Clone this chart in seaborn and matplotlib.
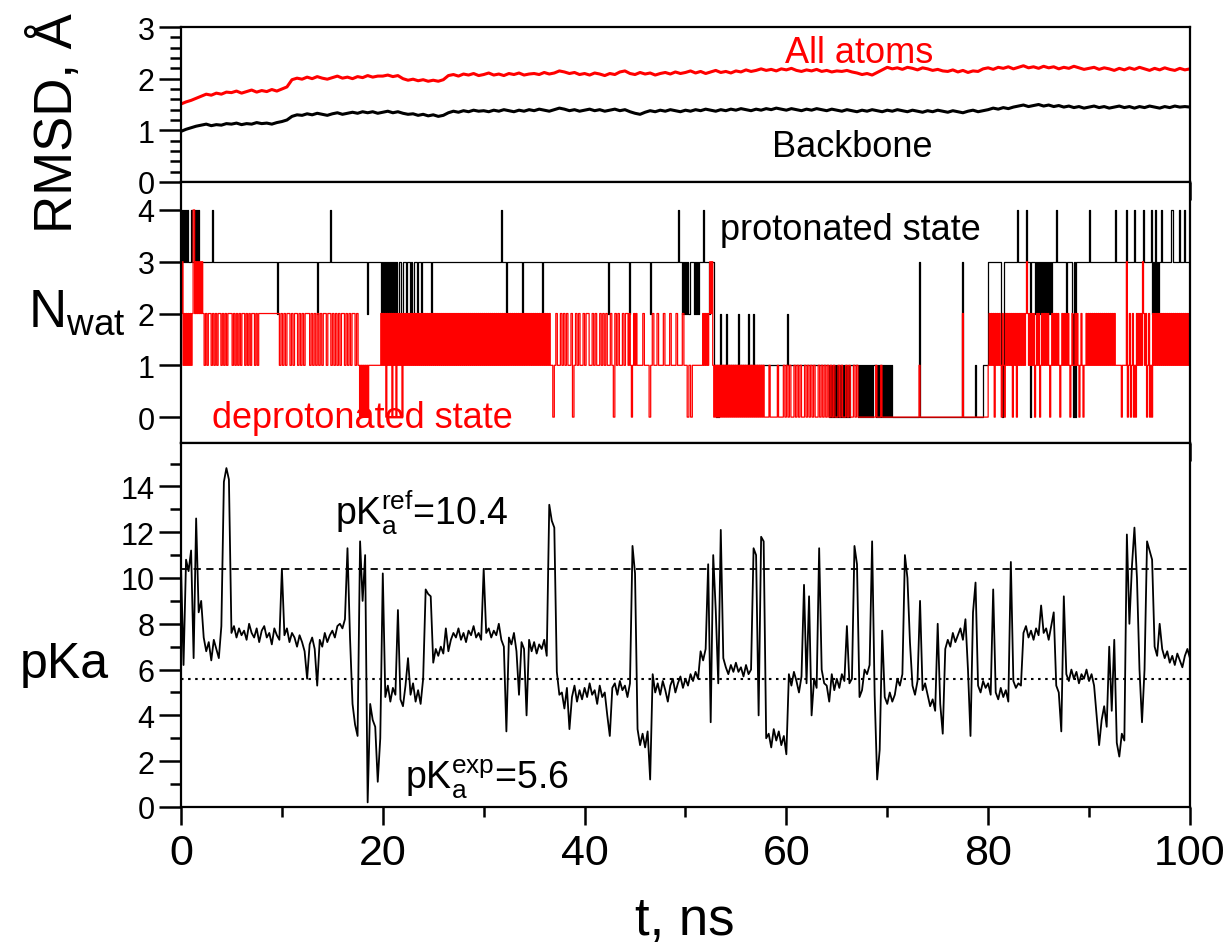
import numpy as np
import pandas as pd
import matplotlib
matplotlib.use("Agg")
import matplotlib.pyplot as plt
import seaborn as sns
from matplotlib.ticker import MultipleLocator

# ---------------- data ----------------
# RMSD (Angstrom), sampled every 0.5 ns from 0 to 100 ns
RMSD_STEP = 0.5
rmsd_all = [
    1.51, 1.55, 1.58, 1.62, 1.66, 1.70, 1.68, 1.72, 1.70, 1.74,
    1.73, 1.76, 1.72, 1.75, 1.78, 1.74, 1.77, 1.75, 1.79, 1.76,
    1.80, 1.84, 1.98, 2.01, 1.99, 2.03, 2.00, 2.04, 2.01, 1.99,
    2.02, 2.05, 2.01, 2.03, 2.00, 2.04, 2.02, 2.06, 2.03, 2.05,
    2.05, 2.07, 2.04, 2.06, 2.00, 1.97, 1.99, 1.96, 1.98, 1.95,
    1.97, 1.95, 1.98, 2.06, 2.08, 2.05, 2.09, 2.07, 2.10, 2.06,
    2.08, 2.11, 2.07, 2.09, 2.06, 2.10, 2.08, 2.11, 2.07, 2.09,
    2.10, 2.08, 2.12, 2.09, 2.11, 2.15, 2.13, 2.10, 2.12, 2.08,
    2.10, 2.07, 2.11, 2.09, 2.06, 2.10, 2.08, 2.13, 2.15, 2.10,
    2.08, 2.12, 2.09, 2.11, 2.07, 2.10, 2.12, 2.09, 2.13, 2.10,
    2.12, 2.15, 2.11, 2.14, 2.10, 2.13, 2.16, 2.12, 2.14, 2.11,
    2.15, 2.13, 2.17, 2.14, 2.16, 2.19, 2.16, 2.18, 2.15, 2.19,
    2.17, 2.20, 2.16, 2.14, 2.17, 2.15, 2.18, 2.14, 2.16, 2.13,
    2.15, 2.14, 2.16, 2.13, 2.11, 2.08, 2.10, 2.07, 2.12, 2.17,
    2.22, 2.19, 2.21, 2.18, 2.22, 2.20, 2.17, 2.21, 2.19, 2.16,
    2.18, 2.15, 2.14, 2.17, 2.13, 2.16, 2.12, 2.15, 2.14, 2.19,
    2.21, 2.18, 2.22, 2.20, 2.23, 2.19, 2.22, 2.25, 2.21, 2.23,
    2.20, 2.24, 2.21, 2.23, 2.19, 2.22, 2.20, 2.24, 2.21, 2.18,
    2.20, 2.22, 2.18, 2.21, 2.19, 2.16, 2.20, 2.17, 2.21, 2.18,
    2.22, 2.19, 2.16, 2.20, 2.17, 2.21, 2.18, 2.16, 2.20, 2.17,
    2.19,
]
rmsd_backbone = [
    0.98, 1.02, 1.05, 1.08, 1.10, 1.12, 1.09, 1.11, 1.10, 1.13,
    1.12, 1.14, 1.11, 1.13, 1.12, 1.15, 1.13, 1.14, 1.12, 1.15,
    1.17, 1.20, 1.27, 1.30, 1.29, 1.32, 1.30, 1.33, 1.31, 1.29,
    1.32, 1.34, 1.31, 1.33, 1.35, 1.33, 1.36, 1.34, 1.36, 1.33,
    1.35, 1.37, 1.34, 1.36, 1.33, 1.31, 1.32, 1.29, 1.31, 1.28,
    1.30, 1.27, 1.29, 1.34, 1.37, 1.35, 1.38, 1.36, 1.39, 1.37,
    1.38, 1.36, 1.39, 1.37, 1.40, 1.38, 1.36, 1.39, 1.37, 1.40,
    1.38, 1.41, 1.39, 1.37, 1.40, 1.43, 1.41, 1.38, 1.40, 1.37,
    1.39, 1.41, 1.38, 1.40, 1.37, 1.39, 1.41, 1.38, 1.40, 1.36,
    1.33, 1.31, 1.35, 1.38, 1.36, 1.39, 1.37, 1.40, 1.38, 1.36,
    1.39, 1.37, 1.40, 1.38, 1.41, 1.39, 1.37, 1.40, 1.38, 1.41,
    1.39, 1.42, 1.40, 1.38, 1.41, 1.39, 1.42, 1.40, 1.43, 1.41,
    1.39, 1.42, 1.40, 1.38, 1.41, 1.39, 1.42, 1.40, 1.38, 1.41,
    1.39, 1.37, 1.40, 1.38, 1.36, 1.39, 1.37, 1.40, 1.38, 1.36,
    1.39, 1.37, 1.40, 1.38, 1.36, 1.39, 1.37, 1.35, 1.38, 1.36,
    1.39, 1.37, 1.35, 1.38, 1.36, 1.34, 1.37, 1.39, 1.36, 1.38,
    1.40, 1.43, 1.41, 1.44, 1.42, 1.45, 1.47, 1.49, 1.46, 1.48,
    1.50, 1.47, 1.49, 1.46, 1.48, 1.45, 1.47, 1.44, 1.46, 1.43,
    1.45, 1.47, 1.44, 1.46, 1.43, 1.45, 1.47, 1.44, 1.46, 1.43,
    1.46, 1.44, 1.47, 1.45, 1.43, 1.46, 1.44, 1.47, 1.45, 1.46,
    1.45,
]

# Number of water molecules: (t_start, t_end, levels spread evenly over the interval)
nwat_protonated = [
    (0.0, 0.7, "4343434"), (0.7, 1.3, "333433"), (1.3, 1.9, "434343"),
    (1.9, 3.05, "3"), (3.05, 3.15, "4"), (3.15, 9.55, "3"), (9.55, 9.65, "2"),
    (9.65, 13.45, "3"), (13.45, 13.55, "2"), (13.55, 14.75, "3"), (14.75, 14.85, "4"),
    (14.85, 18.45, "3"), (18.45, 18.55, "2"), (18.55, 19.8, "3"),
    (19.8, 21.3, "232323232323232"), (21.3, 24.3, "3233233233232332332333"),
    (24.3, 24.75, "3"), (24.75, 24.85, "2"), (24.85, 31.75, "3"), (31.75, 31.85, "4"),
    (31.85, 32.25, "3"), (32.25, 32.35, "2"), (32.35, 33.75, "3"), (33.75, 33.85, "2"),
    (33.85, 35.75, "3"), (35.75, 35.85, "2"), (35.85, 42.35, "3"), (42.35, 42.45, "2"),
    (42.45, 44.45, "3"), (44.45, 44.55, "2"), (44.55, 46.45, "3"), (46.45, 46.55, "2"),
    (46.55, 49.25, "3"), (49.25, 49.35, "4"), (49.35, 49.7, "3"), (49.7, 50.4, "2323232"),
    (50.4, 50.8, "3"), (50.8, 51.4, "232323"), (51.4, 51.75, "3"), (51.75, 51.85, "4"),
    (51.85, 52.35, "3"), (52.35, 52.45, "2"), (52.45, 52.8, "3"),
    (52.8, 53.0, "1"), (53.0, 53.4, "0101"), (53.4, 53.5, "2"), (53.5, 54.05, "1"),
    (54.05, 54.15, "2"), (54.15, 55.25, "1"), (55.25, 55.35, "2"), (55.35, 56.15, "1"),
    (56.15, 56.25, "2"), (56.25, 56.65, "1"), (56.65, 56.75, "2"), (56.75, 60.05, "1"),
    (60.05, 60.15, "2"), (60.15, 64.2, "1"), (64.2, 66.4, "0101010101010101010101"),
    (66.4, 67.1, "1"), (67.1, 68.6, "010101010101010"), (68.6, 68.9, "1"),
    (68.9, 70.6, "01010101010101010"), (70.6, 73.15, "0"), (73.15, 73.25, "3"),
    (73.25, 77.45, "0"), (77.45, 77.55, "3"), (77.55, 78.65, "0"), (78.65, 78.75, "1"),
    (78.75, 79.45, "0"), (79.45, 80.0, "1"), (80.0, 81.25, "3"), (81.25, 81.6, "101"),
    (81.6, 82.85, "3"), (82.85, 82.95, "4"), (82.95, 83.75, "3"), (83.75, 83.85, "4"),
    (83.85, 84.15, "3"), (84.15, 84.25, "0"), (84.25, 84.6, "3"),
    (84.6, 86.4, "232323232323232323"), (86.4, 86.75, "3"), (86.75, 86.85, "4"),
    (86.85, 87.7, "3"), (87.7, 87.8, "2"), (87.8, 88.35, "3"), (88.35, 88.45, "2"),
    (88.45, 88.75, "030"), (88.75, 89.95, "3"), (89.95, 90.1, "4"), (90.1, 92.55, "3"),
    (92.55, 92.65, "4"), (92.65, 93.65, "3"), (93.65, 93.75, "4"), (93.75, 94.45, "3"),
    (94.45, 94.55, "4"), (94.55, 95.35, "3"), (95.35, 95.45, "4"), (95.45, 96.1, "3"),
    (96.1, 96.9, "42324232"), (96.9, 97.15, "3"), (97.15, 97.25, "4"), (97.25, 98.15, "3"),
    (98.15, 98.3, "4"), (98.3, 98.95, "3"), (98.95, 99.05, "4"), (99.05, 99.45, "3"),
    (99.45, 99.55, "4"), (99.55, 100.0, "3"),
]
nwat_deprotonated = [
    (0.0, 1.2, "231212121212"), (1.2, 1.35, "4"), (1.35, 2.15, "23232323"),
    (2.15, 7.7, "2121221212122121212221212121221212122121"), (7.7, 9.6, "2"),
    (9.6, 17.7, "212121221212212121222121212121221221212121221212122121"),
    (17.7, 18.7, "0101010101"), (18.7, 19.8, "1"), (19.8, 22.0, "2121202121202120212120"),
    (22.0, 32.6, "2121212121212121212121212121212121212121212121212121"
                 "21212121212121212121212121212121212121212121212121212121"),
    (32.6, 36.7, "2121212121212121212121212121212121212121"),
    (36.7, 44.2, "10121121212112012121121221121211212121121021211212"),
    (44.2, 45.3, "2121012121"),
    (45.3, 50.0, "111211101211211121112111211121"),
    (50.0, 51.7, "1010111111"), (51.7, 52.7, "2121212323"),
    (52.7, 57.8, "101010101010101010101010101010101010101010101010101"),
    (57.8, 59.7, "0000100000010000"), (59.7, 64.2, "101010010101001010101001010101"),
    (64.2, 67.1, "0101001010010100101"), (67.1, 70.6, "0000000000000010001000000000"),
    (70.6, 73.15, "0"), (73.15, 73.25, "1"), (73.25, 77.45, "0"), (77.45, 77.55, "2"),
    (77.55, 80.0, "0"),
    (80.0, 84.2, "121212" "021212" "102102" "121212" "021202" "121212" "123212"),
    (84.2, 88.2, "1212012120" "1212121210" "1212121210" "1212121210"),
    (88.2, 89.6, "12112121012101"),
    (89.6, 92.7, "1212121212121212121212121212121"),
    (92.7, 93.7, "1111101111"),
    (93.7, 100.0, "3012012010" "2121213212" "0120102121" "2121212121"
                  "2121212121" "2121212121" "212"),
]

# pKa, sampled every 0.25 ns from 0 to 100 ns
PKA_STEP = 0.25
pka = [
    10.5, 6.2, 10.8, 10.3, 11.2, 6.5, 12.6, 8.5, 9.0, 7.4, 6.8, 7.2, 6.4, 7.3, 6.9, 6.5, 7.9, 14.2, 14.8, 14.3,
    7.6, 7.9, 7.4, 7.8, 7.5, 7.7, 7.3, 8.0, 7.6, 7.4, 7.8, 7.2, 7.7, 7.9, 7.4, 7.6, 7.1, 7.8, 7.5, 7.3,
    10.4, 7.5, 7.8, 7.2, 7.6, 7.4, 7.0, 7.5, 7.2, 6.8, 5.6, 7.1, 7.4, 6.9, 5.3, 7.3, 7.0, 7.6, 7.2, 7.5,
    7.7, 7.4, 7.9, 8.0, 7.8, 8.2, 11.3, 7.4, 4.5, 3.6, 3.1, 11.6, 9.0, 11.0, 0.2, 4.5, 3.8, 3.5, 1.1, 3.0,
    10.2, 4.8, 5.3, 4.6, 5.2, 4.9, 8.6, 4.7, 4.4, 5.3, 6.5, 4.9, 5.4, 4.6, 5.1, 4.5, 5.6, 9.5, 9.3, 9.2,
    6.3, 6.9, 6.6, 7.0, 6.7, 7.8, 6.8, 7.3, 7.6, 7.4, 7.8, 7.3, 7.6, 7.2, 7.7, 7.5, 7.9, 7.4, 7.6, 7.3,
    10.4, 7.6, 7.8, 7.4, 7.7, 7.5, 8.0, 7.3, 7.0, 3.3, 7.4, 7.1, 7.6, 6.8, 4.9, 7.2, 6.9, 4.0, 7.3, 6.8,
    7.2, 6.7, 7.1, 6.9, 7.3, 6.6, 13.2, 12.5, 12.2, 5.9, 4.9, 5.0, 4.3, 5.2, 3.4, 4.8, 5.3, 4.6, 5.1, 4.7,
    5.2, 4.8, 5.4, 4.9, 5.1, 4.5, 5.3, 4.8, 5.0, 4.0, 3.1, 5.2, 5.4, 4.9, 5.5, 5.1, 5.3, 4.8, 5.4, 11.4,
    10.2, 3.4, 2.7, 3.2, 2.6, 3.3, 1.2, 5.8, 5.0, 5.4, 4.9, 5.5, 5.1, 4.6, 5.3, 5.6, 5.0, 5.4, 5.7, 5.2,
    5.6, 5.3, 5.8, 5.5, 5.9, 5.6, 6.8, 6.4, 6.9, 10.6, 3.7, 11.0, 8.6, 5.4, 12.1, 6.5, 6.1, 5.8, 6.2, 5.9,
    6.3, 5.9, 6.1, 5.7, 6.2, 5.8, 6.0, 11.3, 11.0, 4.0, 11.8, 11.6, 3.0, 3.2, 2.6, 3.4, 2.9, 3.3, 2.7, 3.1,
    2.3, 5.8, 5.3, 5.9, 5.5, 5.0, 5.7, 9.7, 5.4, 9.2, 4.0, 5.6, 5.2, 11.3, 6.0, 5.4, 5.3, 4.6, 5.8, 5.1,
    5.6, 5.2, 5.8, 5.5, 7.9, 5.4, 5.6, 11.4, 10.6, 4.8, 5.1, 6.0, 5.8, 6.2, 11.6, 4.9, 1.2, 2.5, 7.7, 4.8,
    4.5, 5.0, 4.6, 4.9, 5.6, 5.3, 5.8, 11.0, 10.0, 7.2, 5.3, 4.9, 5.5, 9.0, 5.1, 5.4, 4.9, 4.4, 4.7, 4.2,
    8.0, 4.5, 3.2, 6.9, 7.3, 7.0, 7.6, 7.2, 7.5, 7.8, 7.3, 8.2, 6.0, 3.1, 8.5, 9.8, 5.3, 5.0, 5.5, 5.2,
    5.4, 4.9, 9.5, 5.0, 4.7, 5.2, 4.8, 5.1, 4.6, 10.7, 5.5, 5.2, 5.4, 5.3, 7.6, 7.9, 7.4, 7.7, 7.3, 7.8,
    7.5, 8.8, 7.6, 7.8, 7.3, 7.9, 8.5, 5.3, 5.0, 3.3, 9.2, 5.8, 5.5, 6.0, 5.6, 5.9, 5.4, 5.8, 5.6, 6.0,
    5.5, 5.8, 5.3, 4.0, 2.7, 3.8, 4.4, 3.5, 7.0, 4.2, 7.3, 2.8, 2.2, 3.2, 2.9, 11.9, 8.0, 10.5, 12.2, 10.0,
    6.0, 3.7, 6.0, 11.6, 11.2, 10.8, 7.0, 6.6, 8.0, 6.9, 6.5, 6.8, 6.3, 6.6, 6.2, 6.7, 6.4, 6.1, 6.6, 6.9,
    6.5,
]
PKA_REF = 10.4
PKA_EXP = 5.6

x_ticks = [0, 20, 40, 60, 80, 100]


def expand(chunks):
    ts, vs = [], []
    for t0, t1, levels in chunks:
        step = (t1 - t0) / len(levels)
        for k, ch in enumerate(levels):
            ts.append(t0 + k * step)
            vs.append(int(ch))
    ts.append(100.0)
    vs.append(vs[-1])
    return np.array(ts), np.array(vs)


t_rmsd = np.arange(len(rmsd_all)) * RMSD_STEP
t_pka = np.arange(len(pka)) * PKA_STEP
df_rmsd = pd.DataFrame({"t": t_rmsd, "all": rmsd_all, "bb": rmsd_backbone})
df_pka = pd.DataFrame({"t": t_pka, "pka": pka})
tp, vp = expand(nwat_protonated)
td, vd = expand(nwat_deprotonated)

# ---------------- style ----------------
sns.set_theme(style="ticks", rc={
    "axes.edgecolor": "black", "axes.linewidth": 1.6,
    "xtick.color": "black", "ytick.color": "black",
    "text.color": "black", "axes.labelcolor": "black",
    "axes.facecolor": "white", "figure.facecolor": "white",
})
plt.rcParams["font.family"] = ["Liberation Sans", "DejaVu Sans"]
plt.rcParams["mathtext.fontset"] = "custom"
plt.rcParams["mathtext.rm"] = "Liberation Sans"

fig = plt.figure(figsize=(12.28, 9.53), dpi=100)
L, W = 0.1474, 0.8216
ax1 = fig.add_axes([L, 0.8080, W, 0.1626])
ax2 = fig.add_axes([L, 0.5341, W, 0.2739])
ax3 = fig.add_axes([L, 0.1522, W, 0.3820])

RED = "#ff0000"

sns.lineplot(data=df_rmsd, x="t", y="bb", ax=ax1, color="black", lw=2.2,
             estimator=None, sort=False, legend=False)
sns.lineplot(data=df_rmsd, x="t", y="all", ax=ax1, color=RED, lw=2.2,
             estimator=None, sort=False, legend=False)

sns.lineplot(x=tp, y=vp, ax=ax2, color="black", lw=0.9, drawstyle="steps-post",
             estimator=None, sort=False, legend=False)
sns.lineplot(x=td, y=vd, ax=ax2, color=RED, lw=0.9, drawstyle="steps-post",
             estimator=None, sort=False, legend=False)

ax3.axhline(PKA_REF, color="black", lw=1.3, ls=(0, (4, 3)))
ax3.axhline(PKA_EXP, color="black", lw=1.5, ls=(0, (1.2, 2.2)))
sns.lineplot(data=df_pka, x="t", y="pka", ax=ax3, color="black", lw=1.3,
             estimator=None, sort=False, legend=False)

for ax in (ax1, ax2, ax3):
    ax.set_xlim(0, 100)
    ax.set_xticks(x_ticks)
    ax.xaxis.set_minor_locator(MultipleLocator(10))
    ax.set_xlabel("")
    ax.set_ylabel("")
    for s in ax.spines.values():
        s.set_linewidth(1.6)
    ax.tick_params(axis="x", which="major", length=13, width=1.8, direction="out",
                   labelsize=31, pad=6)
    ax.tick_params(axis="x", which="minor", length=7, width=1.8, direction="out")
    ax.tick_params(axis="y", which="major", length=16, width=1.8, direction="out",
                   labelsize=22, pad=3)
    ax.tick_params(axis="y", which="minor", length=8, width=1.8, direction="out")

ax1.tick_params(axis="x", labelbottom=False)
ax2.tick_params(axis="x", labelbottom=False)

ax1.set_ylim(0, 3)
ax1.set_yticks([0, 1, 2, 3])
ax1.yaxis.set_minor_locator(MultipleLocator(0.2))

ax2.set_ylim(-0.5, 4.54)
ax2.set_yticks([0, 1, 2, 3, 4])

ax3.set_ylim(0, 15.9)
ax3.set_yticks(np.arange(0, 15, 2))
ax3.yaxis.set_minor_locator(MultipleLocator(1))

# annotations
ax1.text(59.9, 2.32, "All atoms", color=RED, fontsize=26, ha="left", va="baseline")
ax1.text(58.6, 0.50, "Backbone", color="black", fontsize=26, ha="left", va="baseline")
ax2.text(53.4, 3.44, "protonated state", color="black", fontsize=26, ha="left", va="baseline")
ax2.text(3.1, -0.19, "deprotonated state", color=RED, fontsize=26, ha="left", va="baseline")
ax3.text(15.3, 12.4, r"$\mathregular{pK_a^{ref}}$=10.4", fontsize=27, ha="left", va="baseline")
ax3.text(22.2, 0.87, r"$\mathregular{pK_a^{exp}}$=5.6", fontsize=27, ha="left", va="baseline")

# axis labels
fig.text(0.046, 0.871, "RMSD, Å", rotation=90, ha="center", va="center", fontsize=38)
fig.text(28 / 1228, 1 - 327 / 953, r"$\mathregular{N_{wat}}$", ha="left", va="baseline", fontsize=38)
fig.text(20 / 1228, 1 - 678 / 953, "pKa", ha="left", va="baseline", fontsize=36)
fig.text(0.558, 1 - 935 / 953, "t, ns", ha="center", va="baseline", fontsize=38)

fig.savefig("out.png", dpi=100)
